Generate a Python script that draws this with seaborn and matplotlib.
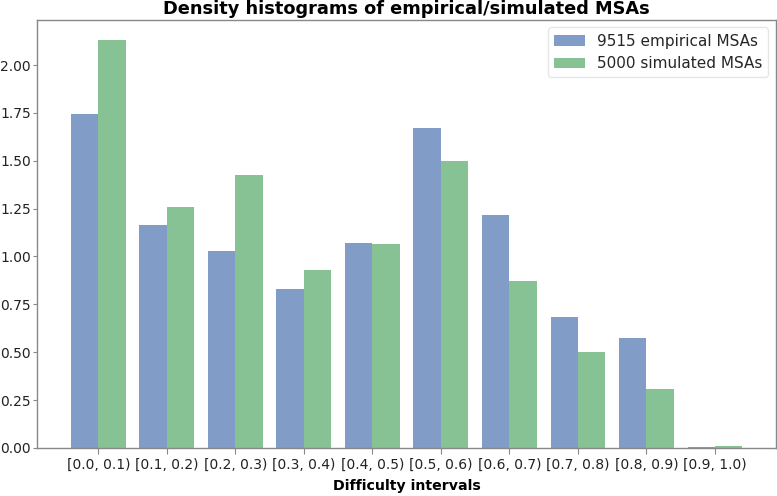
import pandas as pd
import matplotlib.pyplot as plt
import seaborn as sns

sns.set_theme(style="white")
plt.rcParams["font.family"] = ["DejaVu Sans"]

intervals = ["[0.0, 0.1)", "[0.1, 0.2)", "[0.2, 0.3)", "[0.3, 0.4)", "[0.4, 0.5)",
             "[0.5, 0.6)", "[0.6, 0.7)", "[0.7, 0.8)", "[0.8, 0.9)", "[0.9, 1.0)"]
empirical = [1.745, 1.165, 1.03, 0.83, 1.07, 1.67, 1.215, 0.685, 0.575, 0.005]
simulated = [2.13, 1.26, 1.425, 0.93, 1.065, 1.50, 0.87, 0.50, 0.31, 0.01]
series = ["9515 empirical MSAs", "5000 simulated MSAs"]

df = pd.DataFrame({
    "interval": intervals * 2,
    "density": empirical + simulated,
    "source": [series[0]] * len(intervals) + [series[1]] * len(intervals),
})

fig, ax = plt.subplots(figsize=(7.77, 4.96), dpi=100)
fig.subplots_adjust(left=0.048, right=0.9987, top=0.96, bottom=0.097)

deep = sns.color_palette("deep")
sns.barplot(data=df, x="interval", y="density", hue="source", order=intervals,
            hue_order=series, palette=[deep[0], deep[2]], alpha=0.7, saturation=1,
            linewidth=0, width=0.8, ax=ax)

ax.set_xlim(-0.89, 9.89)
ax.set_ylim(0, 2.2365)
ax.set_yticks([0, 0.25, 0.5, 0.75, 1.0, 1.25, 1.5, 1.75, 2.0])
ax.set_yticklabels([f"{v:.2f}" for v in ax.get_yticks()])
ax.set_title("Density histograms of empirical/simulated MSAs", fontsize=12.75,
             fontweight="bold", pad=4, color="black")
ax.set_xlabel("Difficulty intervals", fontsize=10.2, fontweight="bold", labelpad=5, color="black")
ax.set_ylabel("")
ax.tick_params(axis="both", labelsize=10, colors="#222222", color="#888888")
ax.tick_params(axis="x", length=4, width=0.8, bottom=True, pad=3)
ax.tick_params(axis="y", length=3, width=0.8, left=True, pad=1.5)
for s in ax.spines.values():
    s.set_color("#888888")
    s.set_linewidth(1)

leg = ax.legend(fontsize=11, loc="upper right", frameon=True)
leg.get_frame().set_edgecolor("#e0e0e0")

plt.savefig("out.png", dpi=100)
